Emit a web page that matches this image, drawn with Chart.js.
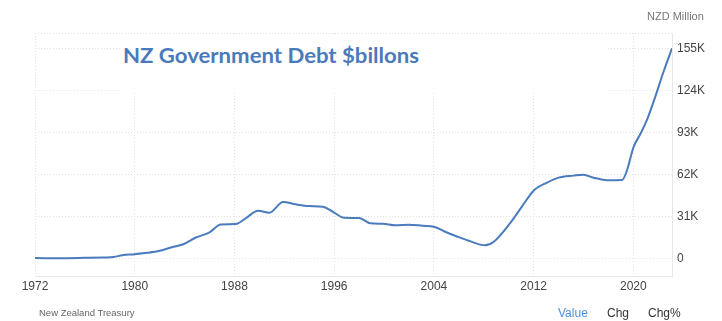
<!DOCTYPE html>
<html><head><meta charset="utf-8">
<script src="https://cdn.jsdelivr.net/npm/chart.js@4.4.0/dist/chart.umd.min.js"></script>
<style>
html,body{margin:0;padding:0;background:#fff;}
#wrap{position:relative;width:722px;height:321px;overflow:hidden;}
#c{position:absolute;left:0;top:0;}
.t{position:absolute;font-family:"Liberation Sans",Arial,sans-serif;white-space:nowrap;line-height:1;}
#box{position:absolute;left:121px;top:35px;width:485px;height:57px;background:#fff;}
#title{position:absolute;left:123px;top:44px;font-family:Lato,"Open Sans",sans-serif;font-weight:700;font-size:21px;color:#4a7abb;transform-origin:0 0;white-space:nowrap;line-height:1;}
</style></head><body>
<div id="wrap">
<canvas id="c" width="722" height="321"></canvas>
<div id="box"></div>
<div id="title">NZ Government Debt $billons</div>
<div class="t" style="left:647px;top:11px;font-size:11px;color:#777;">NZD Million</div>
<div class="t" style="left:39px;top:308px;font-size:9.5px;color:#666;">New Zealand Treasury</div>
<div class="t" style="left:558px;top:307px;font-size:12px;color:#4a90d9;">Value</div>
<div class="t" style="left:607px;top:307px;font-size:12px;color:#333;">Chg</div>
<div class="t" style="left:648px;top:307px;font-size:12px;color:#333;">Chg%</div>
</div>
<script>
const years = [1972.0,1974.0,1976.0,1977.5,1978.3,1979.0,1980.0,1981.0,1982.0,1983.1,1983.9,1984.9,1986.0,1986.9,1988.1,1988.9,1989.9,1990.8,1991.9,1992.9,1994.0,1995.1,1995.9,1996.8,1998.0,1998.9,1999.9,2000.9,2002.0,2003.1,2004.0,2004.9,2005.9,2006.8,2008.1,2008.8,2010.1,2011.06,2012.05,2013.07,2014.0,2015.2,2016.0,2016.8,2017.9,2019.1,2019.5,2020.0,2020.56,2021.09,2021.76,2022.42,2023.1];
const debtNZDm = [400,300,600,900,1200,2500,3300,4300,5800,8800,10600,15600,19400,25300,25600,29800,35400,33900,41800,40100,38800,38300,34600,30200,30000,26100,25800,24600,25000,24300,23600,19900,16200,13200,9900,12500,26100,38400,50700,56100,59800,61300,62000,59800,57900,58100,65500,82000,92000,102400,119600,138000,155300];
const yTicks = [0,31000,62000,93000,124000,155000];
const xTicks = [1972,1980,1988,1996,2004,2012,2020];

const gridCol = '#e2e2e2';
const topLine = {
  id:'topLine',
  beforeDatasetsDraw(chart){
    const {ctx, chartArea:a} = chart;
    ctx.save();
    ctx.strokeStyle = gridCol; ctx.lineWidth = 1; ctx.setLineDash([1,2]);
    ctx.beginPath(); ctx.moveTo(a.left, a.top+0.5); ctx.lineTo(a.right, a.top+0.5); ctx.stroke();
    ctx.restore();
  }
};

new Chart(document.getElementById('c'), {
  type:'line',
  data:{datasets:[{
    data: years.map((x,i)=>({x:x, y:debtNZDm[i]})),
    borderColor:'#4a7bbd', borderWidth:2, pointRadius:0, fill:false,
    cubicInterpolationMode:'monotone'
  }]},
  options:{
    responsive:false, animation:false,
    plugins:{legend:{display:false}, tooltip:{enabled:false}},
    layout:{padding:{left:35, top:33, right:0, bottom:0}},
    scales:{
      x:{type:'linear', min:1972, max:2023.1,
        afterBuildTicks:s=>{s.ticks = xTicks.map(v=>({value:v}));},
        afterFit:s=>{s.height=45;},
        grid:{color:gridCol, drawTicks:false},
        border:{display:true, color:'#e8e8e8', dash:[1,2]},
        ticks:{padding:3, color:'#444', autoSkip:false, maxRotation:0,
          font:{family:'"Liberation Sans", Arial, sans-serif', size:12},
          callback:v=>String(v)}
      },
      y:{position:'right', min:-12800, max:166600,
        afterBuildTicks:s=>{s.ticks = yTicks.map(v=>({value:v}));},
        afterFit:s=>{s.width=50;},
        grid:{color:gridCol, drawTicks:false},
        border:{display:true, color:'#e8e8e8', dash:[1,2]},
        ticks:{padding:5, color:'#444',
          font:{family:'"Liberation Sans", Arial, sans-serif', size:12},
          callback:v=> v===0 ? '0' : (v/1000)+'K'}
      }
    }
  },
  plugins:[topLine]
});
const t = document.getElementById('title');
const w = t.getBoundingClientRect().width;
t.style.transform = 'scaleX(' + (296/w) + ')';
</script>
</body></html>
